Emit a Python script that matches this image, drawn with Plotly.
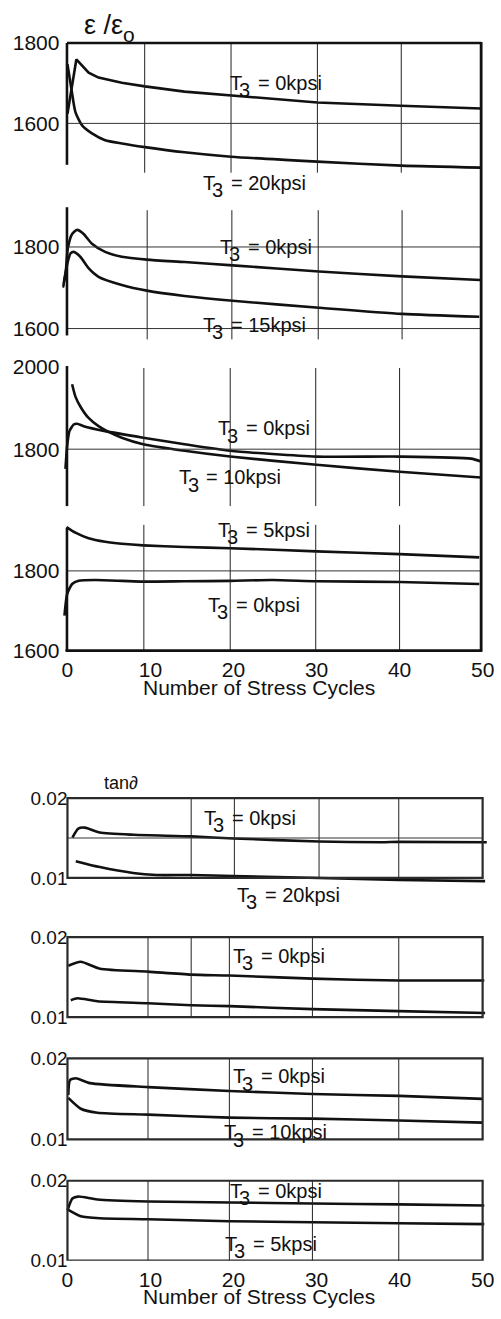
import plotly.graph_objects as go

W, H = 501, 1319
FONT = "Liberation Sans, Arial, sans-serif"
INK = "#111111"

# ---------------- data (cycles, value) ----------------
# Panel 1: eps/eps0, T3 = 0 and 20 kpsi
p1_0_x = [0, 1.07, 2.55, 3.74, 6.54, 9.32, 14.1, 19.7, 30.1, 40.2, 49.8]
p1_0_y = [1624, 1759, 1726, 1714, 1701, 1692, 1679, 1670, 1652, 1644, 1637]
p1_20_x = [0, 0.48, 0.96, 1.76, 2.95, 4.54, 6.54, 9.32, 14.1, 19.7, 30.1, 40.2, 49.8]
p1_20_y = [1747, 1685, 1628, 1595, 1575, 1558, 1550, 1541, 1528, 1517, 1505, 1495, 1490]
# Panel 2: T3 = 0 and 15 kpsi
p2_0_x = [-0.56, -0.24, 0.04, 0.56, 1.16, 1.95, 2.95, 4.54, 6.54, 9.56, 14.1, 19.9, 30.3, 40.3, 49.7]
p2_0_y = [1701, 1731, 1796, 1832, 1842, 1832, 1808, 1788, 1776, 1769, 1763, 1755, 1740, 1728, 1719]
p2_15_x = [-0.56, 0.04, 0.36, 0.75, 1.55, 2.54, 3.74, 6.54, 9.56, 14.1, 19.9, 30.3, 40.3, 49.6]
p2_15_y = [1701, 1764, 1784, 1788, 1776, 1748, 1727, 1707, 1693, 1680, 1668, 1651, 1636, 1629]
# Panel 3: T3 = 0 and 10 kpsi
p3_0_x = [-0.24, -0.04, 0.24, 0.75, 1.16, 1.95, 4.54, 9.12, 14.1, 19.6, 30.0, 40.0, 48.6, 49.8]
p3_0_y = [1752, 1808, 1844, 1860, 1862, 1856, 1844, 1828, 1812, 1796, 1782, 1782, 1777, 1770]
p3_10_x = [0.56, 0.96, 1.55, 2.54, 3.74, 4.95, 6.54, 9.12, 14.1, 19.6, 30.0, 40.0, 49.8]
p3_10_y = [1958, 1928, 1904, 1876, 1856, 1842, 1828, 1812, 1796, 1782, 1762, 1745, 1731]
# Panel 4: T3 = 5 and 0 kpsi
p4_5_x = [-0.12, 0.96, 2.54, 4.54, 6.54, 9.12, 14.1, 19.6, 30.0, 40.0, 49.6]
p4_5_y = [1910, 1896, 1882, 1873, 1868, 1864, 1860, 1857, 1849, 1842, 1834]
p4_0_x = [-0.36, -0.04, 0.56, 1.35, 3.35, 6.54, 9.12, 14.1, 19.6, 24.7, 30.0, 40.0, 49.6]
p4_0_y = [1688, 1742, 1767, 1775, 1777, 1775, 1773, 1774, 1775, 1777, 1774, 1772, 1767]

# tan delta panels
p5_0_x = [0.6, 1.3, 2.1, 3.9, 8.0, 14.9, 20.0, 30.3, 37.8, 39.9, 50.5]
p5_0_y = [0.01506, 0.01617, 0.0163, 0.01568, 0.0154, 0.0152, 0.01494, 0.01457, 0.01447, 0.01452, 0.01447]
p5_20_x = [1.0, 3.9, 7.9, 10.7, 14.9, 20.0, 30.3, 39.9, 50.3]
p5_20_y = [0.0121, 0.01136, 0.01062, 0.01037, 0.01037, 0.01025, 0.0100, 0.00975, 0.0096]
p6_0_x = [0.1, 1.6, 3.9, 9.7, 14.9, 19.5, 29.5, 39.9, 50.2]
p6_0_y = [0.01642, 0.01691, 0.01605, 0.01568, 0.01531, 0.01519, 0.01481, 0.01457, 0.01457]
p6_15_x = [0.4, 1.2, 3.6, 9.7, 14.9, 19.5, 29.5, 39.9, 50.3]
p6_15_y = [0.0121, 0.01235, 0.01198, 0.01173, 0.01148, 0.01136, 0.01099, 0.01074, 0.0105]
p7_0_x = [0.1, 0.3, 1.0, 2.7, 9.7, 19.5, 29.5, 39.9, 50.0]
p7_0_y = [0.01549, 0.01732, 0.01756, 0.01695, 0.01646, 0.01598, 0.01561, 0.01537, 0.0150]
p7_10_x = [0.1, 1.6, 3.6, 9.7, 19.5, 29.5, 39.9, 50.0]
p7_10_y = [0.01512, 0.01378, 0.01329, 0.01305, 0.01268, 0.01256, 0.01232, 0.01207]
p8_0_x = [0.0, 0.6, 1.3, 3.6, 9.7, 19.5, 29.5, 39.9, 50.2]
p8_0_y = [0.0163, 0.01778, 0.01802, 0.01765, 0.01741, 0.01728, 0.01716, 0.01704, 0.01691]
p8_5_x = [0.0, 1.6, 3.9, 9.7, 19.5, 29.5, 39.9, 50.2]
p8_5_y = [0.01642, 0.01556, 0.01531, 0.01519, 0.01494, 0.01481, 0.01469, 0.01457]

# tick labels / grid positions
x_ticks = [0, 10, 20, 30, 40, 50]
eps_ticks = [[1600, 1800], [1600, 1800], [1800, 2000], [1600, 1800]]
tan_ticks = [0.01, 0.02]
tan_ticktext = ["0.01", "0.02"]
grid_x = [
    [9.3, 19.7, 30.1, 40.2],
    [9.6, 19.8, 30.2, 40.3],
    [9.2, 19.6, 29.9, 40.0],
    [9.2, 19.6, 29.9, 40.0],
    [14.9, 20.1, 30.3, 39.9],
    [9.7, 14.9, 19.5, 29.5, 39.9],
    [9.7, 19.5, 29.5, 39.9],
    [9.7, 19.5, 29.5, 39.9],
]
grid_y = [[1600], [1600, 1800], [1800], [1800], [0.015], [], [], []]

label_text = [
    ["0kpsi", "20kpsi"], ["0kpsi", "15kpsi"], ["0kpsi", "10kpsi"], ["5kpsi", "0kpsi"],
    ["0kpsi", "20kpsi"], ["0kpsi"], ["0kpsi", "10kpsi"], ["0kpsi", "5kpsi"],
]

series = [
    [(p1_0_x, p1_0_y, "linear"), (p1_20_x, p1_20_y, "spline")],
    [(p2_0_x, p2_0_y, "spline"), (p2_15_x, p2_15_y, "spline")],
    [(p3_0_x, p3_0_y, "spline"), (p3_10_x, p3_10_y, "spline")],
    [(p4_5_x, p4_5_y, "spline"), (p4_0_x, p4_0_y, "spline")],
    [(p5_0_x, p5_0_y, "spline"), (p5_20_x, p5_20_y, "spline")],
    [(p6_0_x, p6_0_y, "spline"), (p6_15_x, p6_15_y, "spline")],
    [(p7_0_x, p7_0_y, "spline"), (p7_10_x, p7_10_y, "spline")],
    [(p8_0_x, p8_0_y, "spline"), (p8_5_x, p8_5_y, "spline")],
]

# ---------------- layout geometry (pixels) ----------------
X0PX, PXU = 67.0, 8.37       # pixel of cycle 0, pixels per cycle
XR = [-0.6, 51.0]
# (domain top px, domain bottom px, (v1, px1), (v2, px2))
geom = [
    (28, 172, (1800, 36.5), (1600, 118)),
    (198, 340, (1800, 243.3), (1600, 326)),
    (360, 510, (2000, 365), (1800, 448.3)),
    (520, 652.5, (1800, 571.7), (1600, 652.5)),
    (795, 895, (0.02, 802), (0.01, 883)),
    (936, 1030, (0.02, 943), (0.01, 1024)),
    (1060, 1155, (0.02, 1066), (0.01, 1148)),
    (1184, 1271, (0.02, 1190), (0.01, 1271)),
]
# label positions: (left px of "T", centre px of main text)
label_pos = [
    [(230, 77), (203, 178)], [(220, 243), (203, 322)], [(218, 427), (178, 477)], [(218, 530), (208, 606)],
    [(204, 822), (237, 900)], [(233, 962)], [(233, 1084), (224, 1141)], [(230, 1200), (225, 1254)],
]
grid_v_ext = [(36.5, 168), (206, 337), (366, 506), (525, 652), None, None, None, None]
left_line = [(36.5, 160), (203, 333), (364, 506), (528, 653)]


def PX(px):
    return px / W


def PY(py):
    return 1 - py / H


def txt(x, y, s, size, anchor="left"):
    return dict(xref="paper", yref="paper", x=PX(x), y=PY(y), xanchor=anchor, yanchor="middle",
                text=s, showarrow=False, font=dict(size=size, family=FONT, color=INK))


fig = go.Figure()
layout = dict(
    width=W, height=H, margin=dict(l=0, r=0, t=0, b=0),
    paper_bgcolor="white", plot_bgcolor="rgba(0,0,0,0)",
    showlegend=False, font=dict(family=FONT, color=INK, size=19),
)
shapes = []
annotations = []
xdom = [PX(X0PX + XR[0] * PXU), PX(X0PX + XR[1] * PXU)]

for i, (dt, db, (v1, p1), (v2, p2)) in enumerate(geom):
    n = i + 1
    xa = "xaxis" if n == 1 else f"xaxis{n}"
    ya = "yaxis" if n == 1 else f"yaxis{n}"
    xr_ = "x" if n == 1 else f"x{n}"
    yr_ = "y" if n == 1 else f"y{n}"
    scale = (p2 - p1) / (v2 - v1)
    ytop = v1 + (dt - p1) / scale
    ybot = v1 + (db - p1) / scale
    bottom_axis = n in (4, 8)
    is_tan = n >= 5
    layout[xa] = dict(
        domain=xdom, range=XR, anchor=yr_, showgrid=False, zeroline=False,
        showline=False, ticks="", tickvals=x_ticks if bottom_axis else [],
        showticklabels=bottom_axis, tickfont=dict(size=21, family=FONT, color=INK),
        ticklabelstandoff=4,
    )
    layout[ya] = dict(
        domain=[PY(db), PY(dt)], range=[ybot, ytop], anchor="free",
        position=PX(67), showgrid=False, zeroline=False, showline=False, ticks="",
        tickvals=tan_ticks if is_tan else eps_ticks[i],
        ticktext=tan_ticktext if is_tan else [str(v) for v in eps_ticks[i]],
        tickfont=dict(size=19 if is_tan else 21, family=FONT, color=INK),
        ticklabelstandoff=0 if is_tan else 8,
    )
    for (xs, ys, shp) in series[i]:
        fig.add_trace(go.Scatter(
            x=xs, y=ys, mode="lines", xaxis=xr_, yaxis=yr_,
            line=dict(color=INK, width=2.6, shape=shp, smoothing=0.6),
            hoverinfo="skip", cliponaxis=False,
        ))
    for gx in grid_x[i]:
        if is_tan:
            shapes.append(dict(type="line", xref=xr_, yref=yr_, x0=gx, x1=gx,
                               y0=0.01, y1=0.02, line=dict(color="#222", width=1)))
        else:
            e0, e1 = grid_v_ext[i]
            shapes.append(dict(type="line", xref=xr_, yref="paper", x0=gx, x1=gx,
                               y0=PY(e1), y1=PY(e0), line=dict(color="#222", width=1)))
    for gy in grid_y[i]:
        x_end = 50.0 if is_tan else 49.8
        shapes.append(dict(type="line", xref=xr_, yref=yr_, x0=0, x1=x_end,
                           y0=gy, y1=gy, line=dict(color="#333", width=1)))
    if is_tan:
        shapes.append(dict(type="rect", xref=xr_, yref=yr_, x0=0, x1=50.0, y0=0.01, y1=0.02,
                           line=dict(color="#2a2a2a", width=2.2)))
    else:
        a, b = left_line[i]
        shapes.append(dict(type="line", xref="paper", yref="paper", x0=PX(66.5), x1=PX(66.5),
                           y0=PY(b), y1=PY(a), line=dict(color=INK, width=2.6)))
    # curve labels: "T", lowered full-size "3", then "= value"
    for t, (lx, cy) in zip(label_text[i], label_pos[i]):
        annotations.append(txt(lx - 1, cy, "T", 20))
        annotations.append(txt(lx + 8, cy + 7.5, "3", 20))
        annotations.append(txt(lx + 27, cy, "= " + t, 20))

# top section frame
shapes.append(dict(type="line", xref="paper", yref="paper", x0=PX(66.5), x1=PX(484),
                   y0=PY(36.5), y1=PY(36.5), line=dict(color=INK, width=2.6)))
shapes.append(dict(type="line", xref="paper", yref="paper", x0=PX(484), x1=PX(484),
                   y0=PY(653.5), y1=PY(35.5), line=dict(color=INK, width=2.8)))
shapes.append(dict(type="line", xref="paper", yref="paper", x0=PX(65), x1=PX(485),
                   y0=PY(652.5), y1=PY(652.5), line=dict(color=INK, width=2.6)))

# axis titles
annotations.append(txt(82, 18, "ε /ε", 27))
annotations.append(txt(121, 28, "o", 21))
annotations.append(txt(102, 787, "tan∂", 18))
annotations.append(txt(260, 690, "Number of Stress Cycles", 21, "center"))
annotations.append(txt(260, 1307, "Number of Stress Cycles", 21, "center"))

layout["shapes"] = shapes
layout["annotations"] = annotations
fig.update_layout(**layout)
fig.write_html("out.html")
